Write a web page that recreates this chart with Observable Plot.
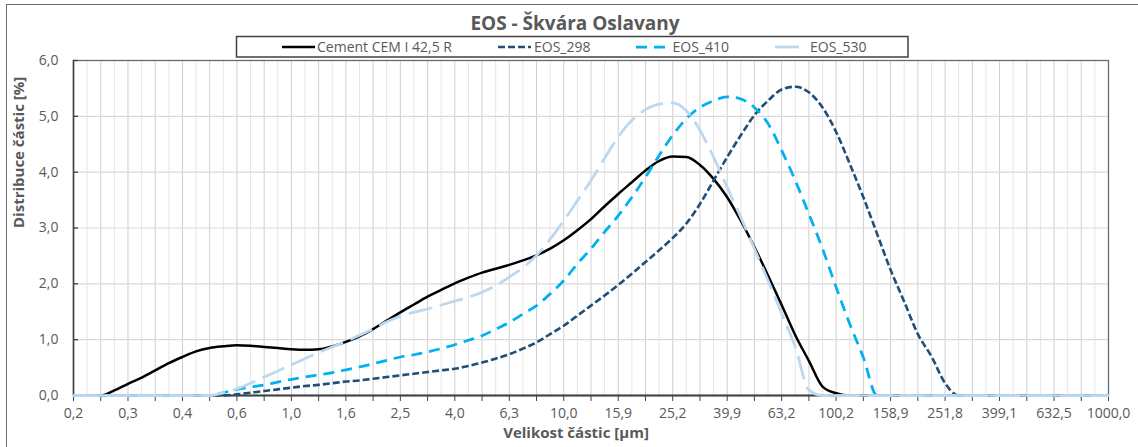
<!DOCTYPE html>
<html><head><meta charset="utf-8">
<script src="https://cdn.jsdelivr.net/npm/d3@7"></script>
<script src="https://cdn.jsdelivr.net/npm/@observablehq/plot@0.6"></script>
<style>
body{margin:0;background:#fff;}
#wrap{position:relative;width:1138px;height:447px;overflow:hidden;font-family:"Open Sans",sans-serif;background:#fff;}
#chart{position:absolute;left:0;top:0;}
#header{position:absolute;left:0;top:0;}
#border{position:absolute;left:6px;top:4px;width:1150px;height:470px;border:1px solid #6e6e6e;pointer-events:none;}
</style></head><body>
<div id="wrap"><div id="chart"></div><svg id="header" width="1138" height="60"></svg><div id="border"></div></div>
<script>
const title = "EOS - Škvára Oslavany";
const xTitle = "Velikost částic [µm]";
const yTitle = "Distribuce částic [%]";
const xTickLabels = ["0,2","0,3","0,4","0,6","1,0","1,6","2,5","4,0","6,3","10,0","15,9","25,2","39,9","63,2","100,2","158,9","251,8","399,1","632,5","1000,0"];
const yTickValues = [0,1,2,3,4,5,6];
const yTickLabels = ["0,0","1,0","2,0","3,0","4,0","5,0","6,0"];
const seriesNames = ["Cement CEM I 42,5 R","EOS_298","EOS_410","EOS_530"];
const seriesColors = ["#000000","#1f4e79","#00b0f0","#bdd7ee"];
const seriesDash = [null,"7 3","11 7","24 8"];
const seriesWidth = [2.5,2.6,2.75,2.75];

// category index 0..76 (equally spaced Excel categories, every 4th labelled)
const categories = d3.range(77);

const cement = [0,0,0,0.09,0.21,0.32,0.45,0.58,0.69,0.79,
 0.85,0.88,0.90,0.89,0.87,0.85,0.83,0.82,0.83,0.88,
 0.96,1.06,1.19,1.34,1.49,1.63,1.77,1.89,2.01,2.11,
 2.20,2.27,2.34,2.42,2.51,2.63,2.78,2.96,3.16,3.39,
 3.61,3.82,4.03,4.20,4.28,4.27,4.13,3.88,3.55,3.13,
 2.66,2.15,1.62,1.08,0.62,0.16,0.04,0,0,0,
 0,0,0,0,0,0,0,0,0,0,
 0,0,0,0,0,0,0];
const eos298 = [0,0,0,0,0,0,0,0,0,0,
 0,0,0.02,0.05,0.08,0.11,0.14,0.17,0.19,0.22,
 0.25,0.27,0.30,0.33,0.36,0.39,0.42,0.45,0.48,0.53,
 0.59,0.66,0.74,0.84,0.95,1.10,1.25,1.43,1.61,1.79,
 1.98,2.18,2.39,2.60,2.82,3.08,3.43,3.85,4.27,4.66,
 5.02,5.28,5.48,5.53,5.43,5.16,4.72,4.15,3.55,2.90,
 2.25,1.68,1.10,0.70,0.22,0,0,0,0,0,
 0,0,0,0,0,0,0];
const eos410 = [0,0,0,0,0,0,0,0,0,0,
 0,0.05,0.11,0.15,0.19,0.24,0.29,0.33,0.37,0.41,
 0.46,0.51,0.57,0.63,0.69,0.73,0.78,0.84,0.91,0.99,
 1.07,1.19,1.31,1.46,1.61,1.82,2.06,2.36,2.63,2.93,
 3.22,3.55,3.91,4.30,4.66,4.96,5.16,5.28,5.35,5.31,
 5.16,4.87,4.39,3.85,3.25,2.63,1.94,1.28,0.68,0,
 0,0,0,0,0,0,0,0,0,0,
 0,0,0,0,0,0,0];
const eos530 = [0,0,0,0,0,0,0,0,0,0,
 0,0.05,0.12,0.22,0.33,0.44,0.55,0.66,0.77,0.87,
 0.97,1.08,1.19,1.32,1.42,1.49,1.55,1.62,1.69,1.76,
 1.85,1.97,2.12,2.29,2.51,2.80,3.13,3.49,3.85,4.25,
 4.63,4.93,5.12,5.22,5.24,5.10,4.75,4.27,3.73,3.19,
 2.63,2.06,1.47,0.87,0.10,0,0,0,0,0,
 0,0,0,0,0,0,0,0,0,0,
 0,0,0,0,0,0,0];
const seriesValues = [cement, eos298, eos410, eos530];

const W = 1138, H = 447, mL = 73, mR = 30, mT = 60, mB = 52;
const plotW = W - mL - mR;
const labelIdx = categories.filter(i => i % 4 === 0);
const tickIdx = categories.filter(i => i % 2 === 0);
const gridMajor = categories.filter(i => i % 2 === 0 && i > 0 && i < 76);
const gridMinor = categories.filter(i => i % 2 === 1);

const lineMarks = seriesValues.map((vals, k) =>
  Plot.line(categories.map(i => ({i, v: vals[i]})), {
    x: "i", y: "v", curve: "monotone-x",
    stroke: seriesColors[k], strokeWidth: seriesWidth[k],
    strokeDasharray: seriesDash[k], strokeLinecap: "butt"
  })
);

// zero-valued stretches of the top series, drawn as a continuous band on the baseline
const eos530Zero = categories
  .filter(i => eos530[i] === 0)
  .map(i => ({i, v: eos530[i], seg: i < 40 ? "left" : "right"}));

const chart = Plot.plot({
  width: W, height: H,
  marginLeft: mL, marginRight: mR, marginTop: mT, marginBottom: mB,
  style: {fontFamily: "Open Sans, sans-serif", fontSize: "14px", color: "#595959", background: "transparent"},
  x: {type: "linear", domain: [0, 76], axis: null},
  y: {domain: [0, 6], axis: null},
  marks: [
    Plot.ruleX(gridMinor, {x: d => d, stroke: "#e6e6e6", strokeWidth: 1}),
    Plot.ruleX(gridMajor, {x: d => d, stroke: "#cfcfcf", strokeWidth: 1}),
    Plot.ruleY([1,2,3,4,5], {y: d => d, stroke: "#d9d9d9", strokeWidth: 1.2}),
    Plot.frame({stroke: "#6a6a6a", strokeWidth: 1.3}),
    Plot.axisX({ticks: tickIdx, tickSize: 6, tickFormat: () => "", stroke: "#404040", label: null}),
    Plot.axisX({ticks: labelIdx, tickSize: 0, tickPadding: 13, tickFormat: d => xTickLabels[d / 4], fill: "#595959", fontSize: 14, label: null}),
    Plot.axisY({ticks: yTickValues, tickSize: 0, tickPadding: 15, tickFormat: d => yTickLabels[d], fill: "#595959", fontSize: 14, label: null}),
    Plot.tickY(yTickValues.slice(1), {y: d => d, insetRight: plotW - 5, stroke: "#404040", strokeWidth: 1.3}),
    Plot.ruleX([0], {stroke: "#404040", strokeWidth: 1.5}),
    Plot.ruleY([0], {stroke: "#404040", strokeWidth: 1.8}),
    ...lineMarks,
    Plot.line(eos530Zero, {x: "i", y: "v", z: "seg", stroke: seriesColors[3], strokeWidth: 2.4}),
    Plot.text([xTitle], {text: d => d, frameAnchor: "bottom", dx: -15, dy: 42, fontWeight: "bold", fontSize: 15, fill: "#595959"}),
    Plot.text([yTitle], {text: d => d, frameAnchor: "left", dx: -54, rotate: -90, fontWeight: "bold", fontSize: 15, fill: "#595959"})
  ]
});
document.getElementById("chart").appendChild(chart);

// header: title + legend
const hdr = d3.select("#header");
hdr.append("text").attr("x", 575).attr("y", 30).attr("text-anchor", "middle")
  .attr("font-family", "Open Sans, sans-serif").attr("font-weight", "bold").attr("font-size", 19)
  .attr("fill", "#595959").text(title);
hdr.append("rect").attr("x", 236.5).attr("y", 36.5).attr("width", 671.5).attr("height", 20.5)
  .attr("fill", "#fff").attr("stroke", "#404040").attr("stroke-width", 1.5);
const swX = [282, 498, 636, 775];
const swL = [33, 33, 33, 30];
const txX = [317, 534, 672.5, 810];
seriesNames.forEach((name, k) => {
  hdr.append("line").attr("x1", swX[k]).attr("x2", swX[k] + swL[k]).attr("y1", 47).attr("y2", 47)
    .attr("stroke", seriesColors[k]).attr("stroke-width", seriesWidth[k])
    .attr("stroke-dasharray", seriesDash[k]);
  hdr.append("text").attr("x", txX[k]).attr("y", 51.5)
    .attr("font-family", "Open Sans, sans-serif").attr("font-size", 14)
    .attr("fill", "#595959").text(name);
});
</script>
</body></html>
